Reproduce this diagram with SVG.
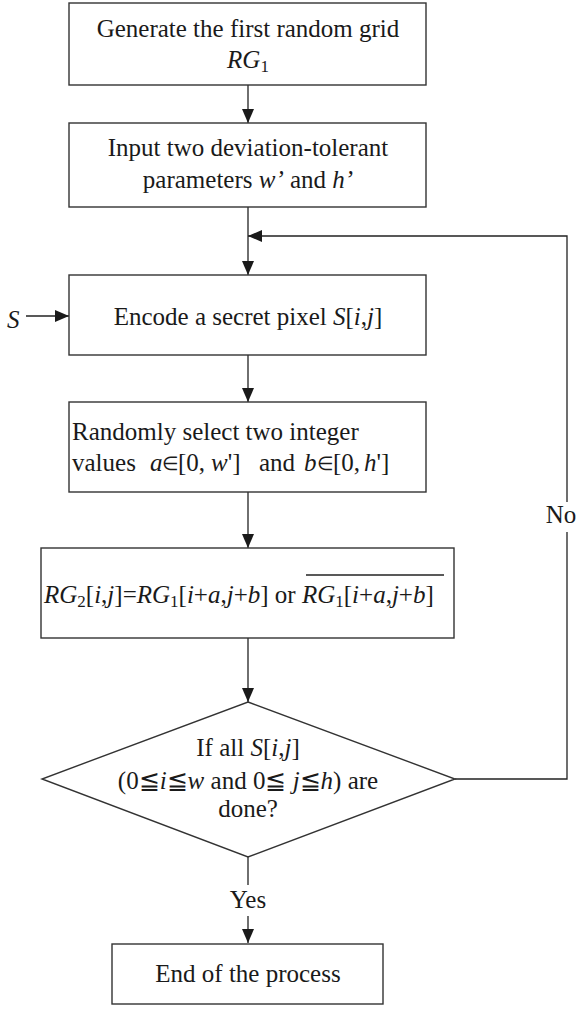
<svg xmlns="http://www.w3.org/2000/svg" width="582" height="1010" viewBox="0 0 582 1010">
  <style>
    .box { fill: #fff; stroke: #333; stroke-width: 1.4; }
    .ln { fill: none; stroke: #222; stroke-width: 1.3; }
    text { font-family: "Liberation Serif", "Times New Roman", serif; font-size: 25px; fill: #1a1a1a; }
    .c { text-anchor: middle; }
    .i { font-style: italic; }
    .sub { font-size: 17px; }
    .op { font-size: 19px; }
  </style>
  <defs>
    <marker id="arr" markerUnits="userSpaceOnUse" markerWidth="14" markerHeight="12" refX="14" refY="6" orient="auto">
      <path d="M0,0 L14,6 L0,12 Z" fill="#1a1a1a"/>
    </marker>
  </defs>

  <!-- connectors -->
  <g id="connectors">
    <line class="ln" x1="248" y1="85" x2="248" y2="123" marker-end="url(#arr)"/>
    <line class="ln" x1="248" y1="207" x2="248" y2="275" marker-end="url(#arr)"/>
    <line class="ln" x1="248" y1="355" x2="248" y2="402" marker-end="url(#arr)"/>
    <line class="ln" x1="248" y1="492" x2="248" y2="548" marker-end="url(#arr)"/>
    <line class="ln" x1="248" y1="638" x2="248" y2="702" marker-end="url(#arr)"/>
    <line class="ln" x1="26" y1="316" x2="69" y2="316" marker-end="url(#arr)"/>
    <!-- loop back on No -->
    <polyline class="ln" points="455,779 567,779 567,532"/>
    <polyline class="ln" points="567,502 567,236 248,236" marker-end="url(#arr)"/>
    <!-- exit on Yes -->
    <line class="ln" x1="248" y1="857" x2="248" y2="885"/>
    <line class="ln" x1="248" y1="916" x2="248" y2="943" marker-end="url(#arr)"/>
    <text class="c" x="561" y="523">No</text>
    <text class="c" x="248" y="908">Yes</text>
    <text class="i" x="7" y="328">S</text>
  </g>

  <g id="n1">
    <rect class="box" x="69" y="3" width="357" height="82"/>
    <text class="c" x="248" y="37">Generate the first random grid</text>
    <text class="c" x="248" y="68"><tspan class="i">RG</tspan><tspan class="sub" dy="4">1</tspan></text>
  </g>

  <g id="n2">
    <rect class="box" x="69" y="123" width="357" height="84"/>
    <text class="c" x="248" y="156">Input two deviation-tolerant</text>
    <text class="c" x="248" y="188">parameters <tspan class="i">w’</tspan> and <tspan class="i">h’</tspan></text>
  </g>

  <g id="n3">
    <rect class="box" x="69" y="275" width="357" height="80"/>
    <text class="c" x="248" y="325">Encode a secret pixel <tspan class="i">S</tspan>[<tspan class="i">i</tspan>,<tspan class="i">j</tspan>]</text>
  </g>

  <g id="n4">
    <rect class="box" x="69" y="402" width="357" height="90"/>
    <text x="72" y="440">Randomly select two integer</text>
    <text y="471"><tspan x="72">values</tspan><tspan x="150" class="i">a</tspan></text>
    <text class="op" x="162" y="470">∈</text>
    <text y="471"><tspan x="178">[0,</tspan><tspan x="211" class="i">w</tspan><tspan>']</tspan><tspan x="259">and</tspan><tspan x="304" class="i">b</tspan></text>
    <text class="op" x="317" y="470">∈</text>
    <text y="471"><tspan x="333">[0,</tspan><tspan x="364" class="i">h</tspan><tspan>']</tspan></text>
  </g>

  <g id="n5">
    <rect class="box" x="41" y="548" width="413" height="90"/>
    <text x="44" y="603"><tspan class="i">RG</tspan><tspan class="sub" dy="4">2</tspan><tspan dy="-4">[</tspan><tspan class="i">i</tspan>,<tspan class="i">j</tspan>]=<tspan class="i">RG</tspan><tspan class="sub" dy="4">1</tspan><tspan dy="-4">[</tspan><tspan class="i">i</tspan>+<tspan class="i">a</tspan>,<tspan class="i">j</tspan>+<tspan class="i">b</tspan>] or <tspan class="i">RG</tspan><tspan class="sub" dy="4">1</tspan><tspan dy="-4">[</tspan><tspan class="i">i</tspan>+<tspan class="i">a</tspan>,<tspan class="i">j</tspan>+<tspan class="i">b</tspan>]</text>
    <line class="ln" x1="306" y1="575" x2="444" y2="575"/>
  </g>

  <g id="n6">
    <polygon class="box" points="248,702 455,779 248,857 42,779"/>
    <text class="c" x="248" y="756">If all <tspan class="i">S</tspan>[<tspan class="i">i</tspan>,<tspan class="i">j</tspan>]</text>
    <text class="c" x="248" y="789">(0≦<tspan class="i">i</tspan>≦<tspan class="i">w</tspan> and 0≦ <tspan class="i">j</tspan>≦<tspan class="i">h</tspan>) are</text>
    <text class="c" x="248" y="817">done?</text>
  </g>

  <g id="n7">
    <rect class="box" x="112" y="944" width="271" height="60"/>
    <text class="c" x="248" y="982">End of the process</text>
  </g>
</svg>
